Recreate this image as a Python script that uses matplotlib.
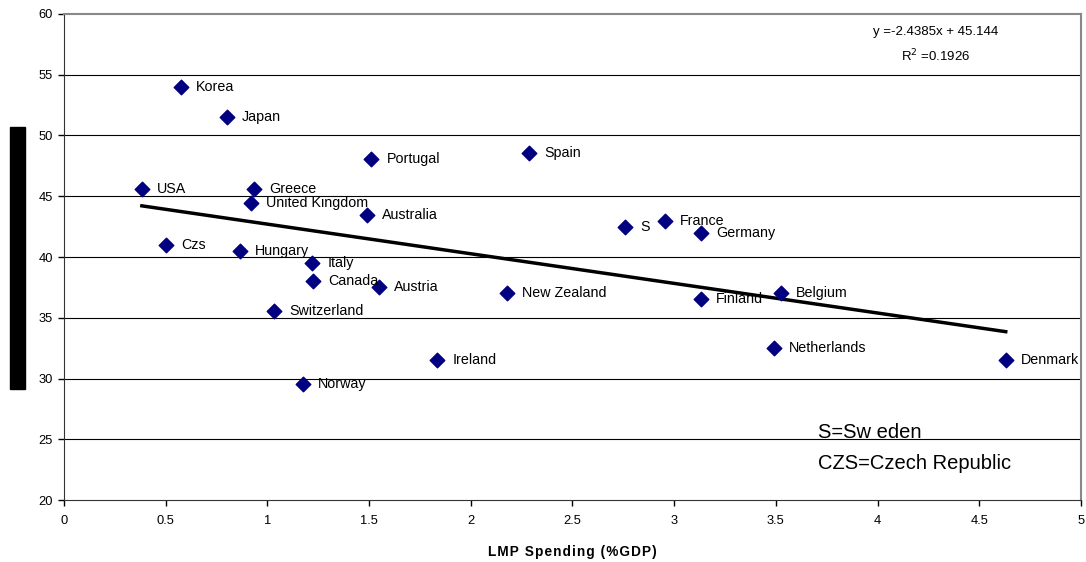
import matplotlib.pyplot as plt
from matplotlib.patches import Rectangle

plt.rcParams['font.family'] = ['Liberation Sans', 'DejaVu Sans']

# 数据：LMP 支出 (%GDP) 与纵轴指标
countries = ['Korea', 'Japan', 'Portugal', 'Spain', 'USA', 'Greece', 'United Kingdom',
             'Australia', 'S', 'France', 'Germany', 'Czs', 'Hungary', 'Italy', 'Canada',
             'Austria', 'New Zealand', 'Finland', 'Belgium', 'Switzerland', 'Netherlands',
             'Ireland', 'Denmark', 'Norway']
lmp = [0.575, 0.80, 1.51, 2.286, 0.383, 0.934, 0.919,
       1.49, 2.758, 2.955, 3.13, 0.50, 0.865, 1.22, 1.224,
       1.549, 2.178, 3.13, 3.525, 1.032, 3.49,
       1.834, 4.63, 1.175]
yvals = [54.0, 51.5, 48.07, 48.56, 45.6, 45.6, 44.44,
         43.46, 42.47, 42.96, 41.98, 40.99, 40.5, 39.5, 38.03,
         37.53, 37.04, 36.54, 37.04, 35.56, 32.5,
         31.52, 31.52, 29.55]

# 趋势线系数（图中公式）
slope = -2.4385
intercept = 45.144
r2 = 0.1926

fig = plt.figure(figsize=(10.86, 5.62), dpi=100)
ax = fig.add_axes([0.0589, 0.1103, 0.9365, 0.8648])

# 水平网格线
for yy in range(25, 60, 5):
    ax.axhline(yy, color='black', linewidth=0.8, zorder=1)

# 趋势线
x0, x1 = min(lmp), max(lmp)
ax.plot([x0, x1], [slope * x0 + intercept, slope * x1 + intercept],
        color='black', linewidth=2.5, zorder=2)

# 散点
ax.scatter(lmp, yvals, marker='D', s=55, color='#000080', zorder=3)

# 国家标签
for name, xx, yy in zip(countries, lmp, yvals):
    ax.annotate(name, (xx, yy), xytext=(11, 0), textcoords='offset points',
                va='center', ha='left', fontsize=10.3, zorder=4)

ax.set_xlim(0, 5)
ax.set_ylim(20, 60)
ax.set_xticks([0, 0.5, 1, 1.5, 2, 2.5, 3, 3.5, 4, 4.5, 5])
ax.set_xticklabels(['0', '0.5', '1', '1.5', '2', '2.5', '3', '3.5', '4', '4.5', '5'])
ax.set_yticks(range(20, 65, 5))
ax.tick_params(labelsize=9.3, length=4, direction='out', width=1)
ax.tick_params(axis='x', pad=7)
ax.tick_params(axis='y', pad=4)

ax.spines['top'].set_color('#888888')
ax.spines['right'].set_color('#888888')
ax.spines['top'].set_linewidth(1.5)
ax.spines['right'].set_linewidth(1.5)
ax.spines['left'].set_color('#333333')
ax.spines['bottom'].set_color('#333333')

# 横轴标题，字母间加细空格模仿原图的字距
xlab = '\u200a'.join('LMP Spending (%GDP)')
ax.set_xlabel(xlab, fontsize=9.8, fontweight='bold', labelpad=13)

# 公式与 R²
ax.text(0.857, 0.963, 'y =%.4fx + %.3f' % (slope, intercept), transform=ax.transAxes,
        ha='center', va='center', fontsize=9.5)
ax.text(0.857, 0.913, 'R$^2$ =%.4f' % r2, transform=ax.transAxes,
        ha='center', va='center', fontsize=9.5)

# 缩写说明
ax.text(0.741, 0.139, 'S=Sw eden', transform=ax.transAxes, ha='left', va='center', fontsize=14.5)
ax.text(0.741, 0.076, 'CZS=Czech Republic', transform=ax.transAxes, ha='left', va='center', fontsize=14.5)

# 左侧黑色遮挡块（纵轴标题位置）
fig.patches.append(Rectangle((10 / 1086, 1 - 389 / 562), 15 / 1086, 262 / 562,
                             transform=fig.transFigure, color='black'))

fig.savefig('out.png', dpi=100)
